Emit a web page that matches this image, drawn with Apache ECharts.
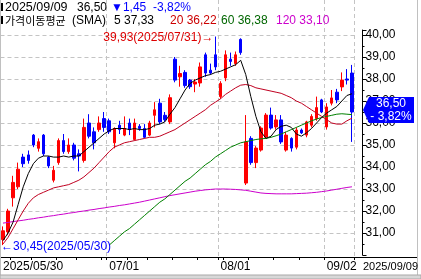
<!DOCTYPE html>
<html><head><meta charset="utf-8">
<script src="https://cdn.jsdelivr.net/npm/echarts@6/dist/echarts.min.js"></script>
<style>html,body{margin:0;padding:0;background:#fff}#c{width:421px;height:279px}</style>
</head><body><div id="c"></div>
<script>
// ---------- data ----------
const dates = ['2025/05/30',
'2025/06/02','2025/06/04','2025/06/05','2025/06/09','2025/06/10','2025/06/11','2025/06/12','2025/06/13','2025/06/16','2025/06/17','2025/06/18','2025/06/19','2025/06/20','2025/06/23','2025/06/24','2025/06/25','2025/06/26','2025/06/27','2025/06/30',
'2025/07/01','2025/07/02','2025/07/03','2025/07/04','2025/07/07','2025/07/08','2025/07/09','2025/07/10','2025/07/11','2025/07/14','2025/07/15','2025/07/16','2025/07/17','2025/07/18','2025/07/21','2025/07/22','2025/07/23','2025/07/24','2025/07/25','2025/07/28','2025/07/29','2025/07/30','2025/07/31',
'2025/08/01','2025/08/04','2025/08/05','2025/08/06','2025/08/07','2025/08/08','2025/08/11','2025/08/12','2025/08/13','2025/08/14','2025/08/18','2025/08/19','2025/08/20','2025/08/21','2025/08/22','2025/08/25','2025/08/26','2025/08/27','2025/08/28','2025/08/29',
'2025/09/01','2025/09/02','2025/09/03','2025/09/04','2025/09/05','2025/09/08','2025/09/09'];

const opens  = [30.70,31.05,32.60,33.10,34.45,34.55,35.45,34.85,35.45,34.45,33.40,34.20,35.20,34.70,35.00,34.60,34.30,36.00,35.60,35.70,
                36.20,36.10,35.10,35.90,35.45,36.00,35.25,35.85,35.75,35.45,36.35,36.90,36.35,36.05,38.90,38.10,38.30,37.95,37.77,37.82,
                39.10,38.40,39.10,37.20,38.05,38.90,38.70,39.80,33.27,35.30,34.20,34.77,35.36,36.36,35.82,36.14,34.77,35.30,34.90,35.68,
                35.45,35.90,36.20,37.05,35.82,36.90,37.40,37.64,38.00,38.27];
const closes = [31.10,32.00,33.30,33.90,34.15,34.30,35.00,35.15,34.60,34.05,33.85,35.20,34.70,35.00,34.40,34.50,35.80,35.40,35.10,36.00,
                35.80,35.60,35.75,35.70,35.75,35.70,36.00,35.75,35.35,36.00,36.60,36.05,36.15,37.15,37.95,38.25,37.70,37.65,37.86,38.55,
                38.27,38.27,38.55,37.80,39.10,38.80,39.10,39.20,35.14,34.20,34.86,35.77,36.36,35.77,36.14,35.14,35.45,34.86,35.68,35.55,
                36.05,36.30,36.70,36.50,36.73,37.14,37.05,37.95,37.95,36.50];
const lows   = [30.45,30.90,32.20,33.00,34.00,34.15,34.90,34.70,34.50,33.95,33.30,34.10,34.60,34.60,34.30,33.80,34.20,35.30,34.80,35.60,
                35.60,35.50,34.85,35.50,35.40,35.45,35.20,35.65,35.30,35.40,35.80,35.95,36.05,35.95,37.85,37.65,37.60,37.55,37.40,37.65,
                38.10,38.20,38.40,37.10,37.90,38.60,38.60,39.10,33.18,34.10,33.95,34.70,35.30,35.70,35.70,35.05,34.70,34.70,34.80,35.50,
                35.35,35.80,36.10,36.45,35.70,36.80,36.90,37.45,37.75,35.14];
const highs  = [31.30,32.10,33.60,34.20,34.60,34.75,35.50,35.30,35.50,34.50,34.05,35.30,35.50,35.30,35.10,34.80,36.20,36.40,35.80,36.30,
                36.50,36.20,35.80,36.10,36.30,36.20,36.20,35.95,35.95,36.10,36.95,37.10,36.50,37.30,39.00,38.60,38.40,38.00,38.00,38.75,
                39.20,38.70,39.93,37.90,39.30,39.20,39.25,39.85,36.36,35.40,34.95,35.85,36.45,36.70,36.36,36.36,35.60,35.35,35.80,35.75,
                36.10,36.40,37.20,37.10,36.90,37.50,37.55,38.30,38.45,38.64];

const sma5   = [30.65,31.00,31.50,32.30,33.10,33.70,34.15,34.40,34.50,34.50,34.45,34.45,34.50,34.45,34.50,34.50,34.70,34.90,35.10,35.30,
                35.50,35.65,35.75,35.75,35.75,35.70,35.75,35.70,35.70,35.75,35.90,35.95,36.05,36.40,36.70,37.10,37.50,37.80,37.95,38.05,
                38.15,38.20,38.30,38.35,38.45,38.55,38.65,38.85,38.20,37.20,36.30,35.60,35.30,35.40,35.70,35.85,35.90,35.80,35.50,35.40,
                35.55,35.75,36.00,36.25,36.45,36.60,36.75,37.00,37.25,37.33];
const sma20  = [30.50,30.80,31.20,31.60,32.00,32.35,32.60,32.75,32.85,32.95,33.05,33.10,33.15,33.20,33.30,33.40,33.55,33.75,33.95,34.20,
                34.45,34.70,34.90,35.00,35.10,35.15,35.20,35.25,35.30,35.35,35.35,35.40,35.50,35.60,35.70,35.85,36.00,36.15,36.30,36.45,
                36.60,36.80,36.95,37.10,37.30,37.45,37.60,37.72,37.75,37.70,37.60,37.55,37.50,37.45,37.40,37.35,37.25,37.15,37.00,36.90,
                36.75,36.60,36.45,36.30,36.15,36.00,35.95,35.95,36.10,36.22];
const sma60  = [null,null,null,null,null,null,null,null,null,null,null,null,null,null,null,null,null,null,null,null,null,
                30.45,30.65,30.85,31.05,31.20,31.40,31.60,31.80,32.00,32.20,32.40,32.55,32.75,32.95,33.15,33.35,33.50,33.70,33.90,
                34.10,34.25,34.45,34.60,34.75,34.90,35.00,35.10,35.15,35.20,35.25,35.28,35.30,35.35,35.42,35.50,35.60,35.70,35.80,35.90,
                36.00,36.10,36.18,36.25,36.30,36.35,36.40,36.42,36.40,36.38];
const sma120 = [31.45,31.48,31.52,31.55,31.58,31.62,31.65,31.69,31.72,31.76,31.79,31.83,31.86,31.90,31.93,31.97,32.00,32.04,32.07,32.11,
                32.14,32.18,32.21,32.25,32.28,32.32,32.36,32.40,32.45,32.50,32.55,32.60,32.65,32.70,32.74,32.78,32.82,32.86,32.90,32.93,
                32.96,32.98,33.00,33.00,33.00,32.99,32.98,32.96,32.94,32.90,32.86,32.82,32.80,32.79,32.78,32.78,32.78,32.78,32.79,32.80,
                32.81,32.83,32.85,32.88,32.91,32.95,32.99,33.03,33.07,33.10];

const yTickValues = [31,32,33,34,35,36,37,38,39,40];
const xLabelIdx  = [0,21,43,64];
const xLabelText = ['2025/05/30','07/01','08/01','09/02'];
const xTickIdx   = [2,6,11,15,20,21,25,29,34,39,43,44,49,54,59,64];
const xSplitIdx  = [21,43,64];
const maNames    = ['5','20','60','120'];

// ---------- helpers ----------
const fmt = v => v.toFixed(2).replace('.', ',');
const FONT = '"Liberation Sans","Noto Sans CJK KR",sans-serif';
const labelMap = new Map(xLabelIdx.map((k,i)=>[k, xLabelText[i]]));
const tickSet = new Set(xTickIdx);
const splitSet = new Set(xSplitIdx);
const ohlc = opens.map((o,i)=>[o, closes[i], lows[i], highs[i]]);

const chart = echarts.init(document.getElementById('c'), null, {renderer:'canvas', width:421, height:279});
const GL = 0.47, GR = 66.5;
chart.setOption({
  animation:false,
  backgroundColor:'#ffffff',
  grid:[{left:GL, right:GR, top:30, bottom:24}, {left:GL, right:GR, top:0, bottom:22}],
  xAxis:[
    {type:'category', gridIndex:0, data:dates, boundaryGap:true, axisLine:{show:false}, axisTick:{show:false}, axisLabel:{show:false}, splitLine:{show:false}},
    {type:'category', gridIndex:1, data:dates, boundaryGap:true, axisLine:{show:false},
     axisTick:{show:true, length:3, interval:(i)=>tickSet.has(i), lineStyle:{color:'#000'}},
     axisLabel:{show:true, interval:(i)=>labelMap.has(i), formatter:(v,i)=>labelMap.get(i)||'', align:'left', margin:4, fontSize:12, fontFamily:FONT, color:'#000'},
     splitLine:{show:true, interval:(i)=>splitSet.has(i), lineStyle:{color:'#c4c4c4', type:[4,3], width:1}}}
  ],
  yAxis:[
    {type:'value', gridIndex:0, position:'right', offset:8, min:30, max:40+5/22, interval:1,
     axisLine:{show:true, lineStyle:{color:'#000'}},
     axisTick:{show:true, length:4, lineStyle:{color:'#000'}},
     minorTick:{show:true, splitNumber:2, length:2, lineStyle:{color:'#000'}},
     axisLabel:{margin:3, fontSize:12, fontFamily:FONT, color:'#000',
       formatter:v => yTickValues.includes(v) ? fmt(v) : ''},
     splitLine:{show:true, showMinLine:false, showMaxLine:false, lineStyle:{color:'#c4c4c4', type:[4,3], width:1}}},
    {type:'value', gridIndex:1, show:false, min:0, max:1}
  ],
  series:[
    {type:'candlestick', name:'price', xAxisIndex:0, yAxisIndex:0, data:ohlc, barWidth:3, z:2,
     itemStyle:{color:'#ff0000', color0:'#0000ff', borderColor:'#ff0000', borderColor0:'#0000ff', borderWidth:1}},
    {type:'line', name:'MA120', xAxisIndex:0, yAxisIndex:0, data:sma120, symbol:'none', z:3, lineStyle:{color:'#cc00cc', width:1}},
    {type:'line', name:'MA60', xAxisIndex:0, yAxisIndex:0, data:sma60, symbol:'none', z:3, lineStyle:{color:'#008000', width:1}},
    {type:'line', name:'MA20', xAxisIndex:0, yAxisIndex:0, data:sma20, symbol:'none', z:3, lineStyle:{color:'#c00020', width:1}},
    {type:'line', name:'MA5', xAxisIndex:0, yAxisIndex:0, data:sma5, symbol:'none', z:3, lineStyle:{color:'#000000', width:1}}
  ]
});

// ---------- annotations ----------
const n = closes.length;
const last = closes[n-1], prev = closes[n-2];
const diff = last - prev, pct = diff / prev * 100;
const hiIdx = highs.indexOf(Math.max(...highs));
const loIdx = lows.indexOf(Math.min(...lows));
const hp = chart.convertToPixel({gridIndex:0}, [hiIdx, highs[hiIdx]]);
const lp = chart.convertToPixel({gridIndex:0}, [loIdx, lows[loIdx]]);
const cp = chart.convertToPixel({gridIndex:0}, [n-1, last]);
const lastMA = a => a[a.length-1];

function T(x, y, text, fill, extra){
  return {type:'text', x:x, y:y, z:100, style:Object.assign({text:text, fill:fill, font:'12px '+FONT, textAlign:'left', textVerticalAlign:'middle', verticalAlign:'middle'}, extra||{})};
}
const yc = cp[1] - 2;
const axisX = 362.5;
const g = [
  {type:'rect', shape:{x:1, y:3, width:2, height:8}, style:{fill:'#000'}, z:100},
  {type:'rect', shape:{x:1, y:16, width:2, height:8}, style:{fill:'#000'}, z:100},
  T(5, 7.5, dates[n-1], '#000', {font:'12.5px '+FONT}),
  T(77, 7.5, fmt(last), '#000'),
  T(111, 7.5, (diff<0?'▼':'▲') + fmt(Math.abs(diff)), '#0000ff'),
  T(153, 7.5, (diff<0?'-':'') + fmt(Math.abs(pct)) + '%', '#0000ff'),
  T(5, 20.5, '가격이동평균', '#000', {font:'11px "Noto Sans CJK KR",sans-serif'}),
  T(72, 20.5, '(SMA)', '#000'),
  T(114, 20.5, maNames[0] + ' ' + fmt(lastMA(sma5)), '#000'),
  T(170, 20.5, maNames[1] + ' ' + fmt(lastMA(sma20)), '#cc0000'),
  T(221, 20.5, maNames[2] + ' ' + fmt(lastMA(sma60)), '#006600'),
  T(276, 20.5, maNames[3] + ' ' + fmt(lastMA(sma120)), '#cc00cc'),
  T(hp[0]-2, hp[1]+1, fmt(highs[hiIdx]) + '(' + dates[hiIdx] + ')→', '#dd0000', {textAlign:'right'}),
  T(lp[0]-2, lp[1]+2, '←' + fmt(lows[loIdx]) + '(' + dates[loIdx] + ')', '#0000ff'),
  {type:'polygon', z:100, shape:{points:[[axisX+0.5, yc],[axisX+6.5, yc-13],[414, yc-13],[414, yc+13],[axisX+6.5, yc+13]]}, style:{fill:'#0000ff'}},
  T(391, yc-6, fmt(last), '#fff', {textAlign:'center'}),
  T(391, yc+7, (diff<0?'-':'') + ' ' + fmt(Math.abs(pct)) + '%', '#fff', {textAlign:'center'}),
  T(363, 267, dates[n-1], '#000', {font:'11px '+FONT}),
  {type:'line', z:90, shape:{x1:0, y1:257.5, x2:417, y2:257.5}, style:{stroke:'#000', lineWidth:1}},
  {type:'line', z:90, shape:{x1:0.5, y1:0, x2:0.5, y2:275}, style:{stroke:'#c0c0c0', lineWidth:1}},
  {type:'line', z:90, shape:{x1:417.5, y1:0, x2:417.5, y2:275}, style:{stroke:'#c0c0c0', lineWidth:1}},
  {type:'rect', z:90, shape:{x:0, y:275, width:421, height:4}, style:{fill:'#d8d8d8', stroke:'#a8a8a8', lineWidth:1}}
];
chart.setOption({graphic:g});
</script>
</body></html>
